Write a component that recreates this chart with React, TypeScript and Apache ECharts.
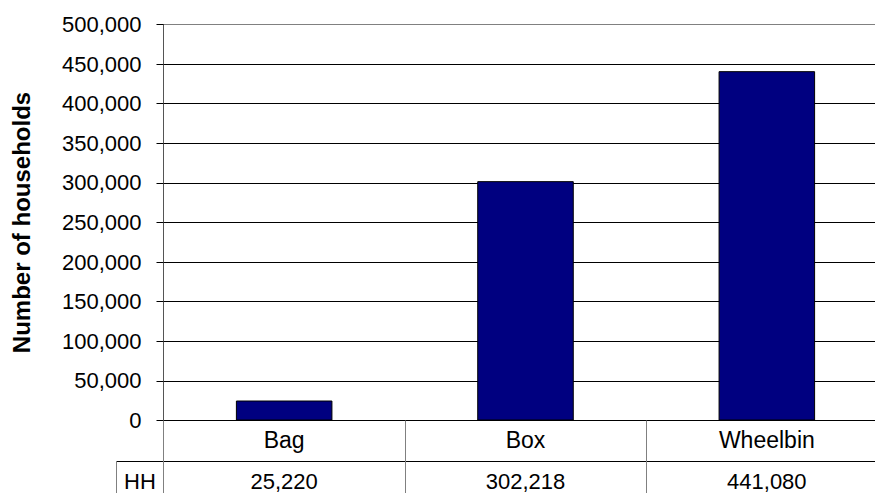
import React, { useEffect, useRef } from 'react';
import * as echarts from 'echarts';

const categories = ['Bag', 'Box', 'Wheelbin'];
const households = [25220, 302218, 441080];
const rowHeader = 'HH';
const yMin = 0;
const yMax = 500000;
const yInterval = 50000;
const yTitle = 'Number of households';

const FONT = '"Liberation Sans", Arial, sans-serif';

const fmt = (v: number) => String(Math.round(v)).replace(/\B(?=(\d{3})+(?!\d))/g, ',');

export default function App() {
  const ref = useRef<HTMLDivElement>(null);
  useEffect(() => {
    if (!ref.current) return;
    const chart = echarts.init(ref.current, undefined, { renderer: 'svg' });
    chart.setOption({
      animation: false,
      backgroundColor: '#ffffff',
      grid: {
        left: 163.5,
        top: 24.5,
        width: 724,
        height: 396,
        outerBoundsMode: 'none',
        containLabel: false,
        show: true,
        borderColor: '#808080',
        borderWidth: 1,
        backgroundColor: 'transparent',
      },
      xAxis: [
        {
          type: 'category',
          data: categories,
          axisLine: { show: true, lineStyle: { color: '#000', width: 1 } },
          axisTick: { show: true, length: 80, lineStyle: { color: '#808080', width: 1 } },
          axisLabel: { fontFamily: FONT, fontSize: 23, color: '#000', margin: 8 },
          splitLine: { show: false },
        },
        {
          type: 'category',
          data: households.map(fmt),
          position: 'bottom',
          offset: 41,
          axisLine: { show: true, lineStyle: { color: '#000', width: 1 } },
          axisTick: { show: false },
          axisLabel: { fontFamily: FONT, fontSize: 22, color: '#000', margin: 9 },
          splitLine: { show: false },
        },
      ],
      yAxis: {
        type: 'value',
        min: yMin,
        max: yMax,
        interval: yInterval,
        name: yTitle,
        nameLocation: 'middle',
        nameGap: 130,
        nameRotate: 90,
        nameTextStyle: { fontFamily: FONT, fontSize: 24, fontWeight: 'bold', color: '#000' },
        axisLine: { show: true, lineStyle: { color: '#555', width: 1 } },
        axisTick: { show: true, length: 7, lineStyle: { color: '#000' } },
        axisLabel: { formatter: (v: number) => fmt(v), fontFamily: FONT, fontSize: 22, color: '#000', margin: 22 },
        splitLine: { show: true, showMaxLine: false, lineStyle: { color: '#000', width: 1 } },
      },
      series: [
        {
          type: 'bar',
          data: households,
          xAxisIndex: 0,
          barWidth: '40%',
          itemStyle: { color: '#000080', borderColor: '#000', borderWidth: 1 },
        },
      ],
      graphic: [
        { type: 'line', shape: { x1: 116.5, y1: 461.5, x2: 164, y2: 461.5 }, style: { stroke: '#000', lineWidth: 1 } },
        { type: 'line', shape: { x1: 116.5, y1: 461.5, x2: 116.5, y2: 493 }, style: { stroke: '#808080', lineWidth: 1 } },
        {
          type: 'text',
          x: 140,
          y: 481.5,
          style: { text: rowHeader, fontFamily: FONT, fontSize: 22, fill: '#000', align: 'center', verticalAlign: 'middle' },
        },
      ],
    });
    return () => chart.dispose();
  }, []);
  return (
    <div
      ref={ref}
      style={{ position: 'absolute', left: 0, top: 0, width: 875, height: 493, background: '#fff' }}
    />
  );
}
